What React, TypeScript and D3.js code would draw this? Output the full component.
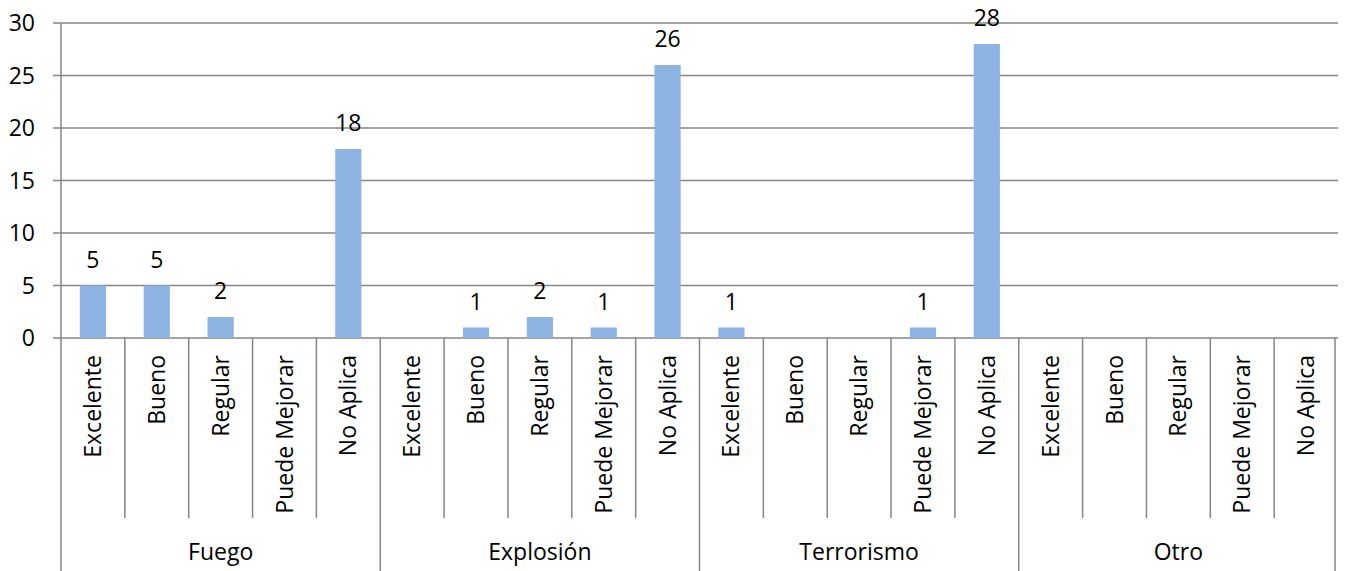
import React from "react";
import * as d3 from "d3";

const groups = ["Fuego", "Explosión", "Terrorismo", "Otro"];
const ratings = ["Excelente", "Bueno", "Regular", "Puede Mejorar", "No Aplica"];
const fuegoValues = [5, 5, 2, 0, 18];
const explosionValues = [0, 1, 2, 1, 26];
const terrorismoValues = [1, 0, 0, 1, 28];
const otroValues = [0, 0, 0, 0, 0];
const yTicks = [0, 5, 10, 15, 20, 25, 30];

const W = 1346;
const H = 571;
const left = 61;
const right = 1338;
const top = 23;
const base = 338;
const font = "Open Sans, Liberation Sans, sans-serif";
const fs = 23;
const gridColor = "#868686";
const barColor = "#8DB3E2";

export default function App() {
  const seriesByGroup = [fuegoValues, explosionValues, terrorismoValues, otroValues];
  const rows = groups.flatMap((g, gi) =>
    ratings.map((r, ri) => ({ key: `${g}|${r}`, group: g, rating: r, value: seriesByGroup[gi][ri] }))
  );
  const x = d3.scaleBand<string>().domain(rows.map((d) => d.key)).range([left, right]).paddingInner(0).paddingOuter(0);
  const y = d3.scaleLinear().domain([0, 30]).range([base, top]);
  const bw = x.bandwidth();
  const barW = bw * 0.41;
  const groupW = bw * ratings.length;

  return (
    <svg width={W} height={H} style={{ position: "absolute", left: 0, top: 0, background: "#fff" }} fontFamily={font}>
      {yTicks.map((t) => (
        <g key={t}>
          <line x1={53} x2={right} y1={y(t)} y2={y(t)} stroke={gridColor} strokeWidth={1.5} />
          <text x={35} y={y(t)} dy="0.35em" textAnchor="end" fontSize={fs} fill="#000">
            {t}
          </text>
        </g>
      ))}
      {/* y axis */}
      <line x1={left} x2={left} y1={top} y2={H} stroke={gridColor} strokeWidth={1.5} />
      {/* category separators */}
      {rows.map((d, i) => {
        if (i === 0) return null;
        const xx = x(d.key)!;
        const isGroup = i % ratings.length === 0;
        return <line key={"s" + d.key} x1={xx} x2={xx} y1={base} y2={isGroup ? H : 518} stroke={gridColor} strokeWidth={1.5} />;
      })}
      <line x1={right - 3} x2={right - 3} y1={base} y2={H} stroke={gridColor} strokeWidth={1.5} />
      {/* bars */}
      {rows.map((d) =>
        d.value > 0 ? (
          <rect key={"b" + d.key} x={x(d.key)! + (bw - barW) / 2} y={y(d.value)} width={barW} height={base - y(d.value)} fill={barColor} />
        ) : null
      )}
      {/* value labels */}
      {rows.map((d) =>
        d.value > 0 ? (
          <text key={"v" + d.key} x={x(d.key)! + bw / 2} y={y(d.value) - 18} textAnchor="middle" fontSize={fs} fill="#000">
            {d.value}
          </text>
        ) : null
      )}
      {/* rating labels */}
      {rows.map((d) => {
        const cx = x(d.key)! + bw / 2;
        return (
          <text
            key={"r" + d.key}
            transform={`translate(${cx},355) rotate(-90)`}
            textAnchor="end"
            dy="0.35em"
            fontSize={fs}
            fill="#000"
          >
            {d.rating}
          </text>
        );
      })}
      {/* group labels */}
      {groups.map((g, gi) => (
        <text key={"g" + g} x={left + groupW * gi + groupW / 2} y={552} dy="0.35em" textAnchor="middle" fontSize={fs} fill="#000">
          {g}
        </text>
      ))}
    </svg>
  );
}
